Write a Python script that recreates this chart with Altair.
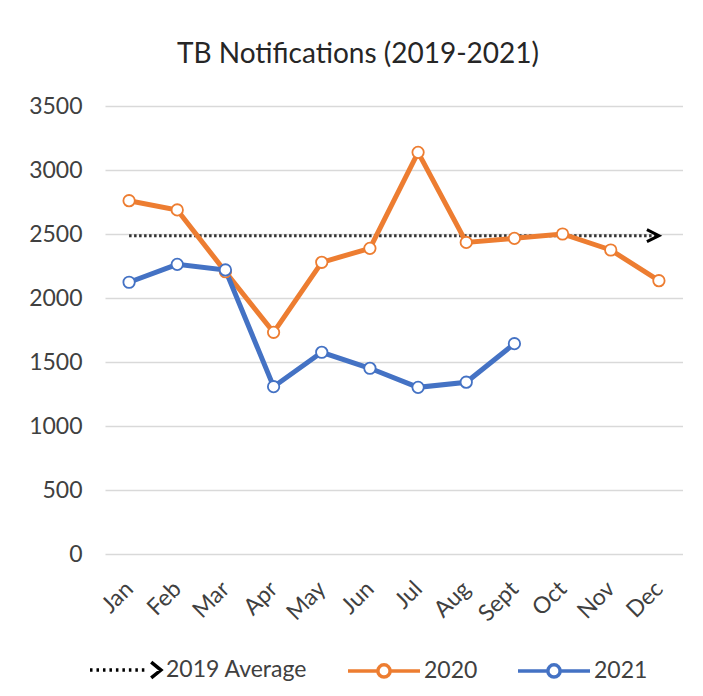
import altair as alt
import pandas as pd

months = ["Jan", "Feb", "Mar", "Apr", "May", "Jun", "Jul", "Aug", "Sept", "Oct", "Nov", "Dec"]
values_2020 = [2760, 2688, 2205, 1732, 2279, 2388, 3138, 2434, 2466, 2500, 2375, 2135]
values_2021 = [2123, 2263, 2219, 1307, 1576, 1451, 1302, 1342, 1643]
average_2019 = 2487
series_names = ["2019 Average", "2020", "2021"]
series_colors = ["#000000", "#ED7D31", "#4472C4"]
y_ticks = [0, 500, 1000, 1500, 2000, 2500, 3000, 3500]

rows = []
for m, v in zip(months, values_2020):
    rows.append({"month": m, "value": v, "series": "2020"})
for m, v in zip(months, values_2021):
    rows.append({"month": m, "value": v, "series": "2021"})
df = pd.DataFrame(rows)

avg_df = pd.DataFrame({"start": [months[0]], "end": [months[-1]], "value": [average_2019]})
legend_df = pd.DataFrame({"entry": series_names})

FONT = "Lato"
TXT = "#404040"

# legend symbol paths (styles)
dots = "".join(f"M{-1 + i * 0.18:.2f},0H{-1 + i * 0.18 + 0.07:.2f}" for i in range(9))
avg_symbol = dots + "M0.7,-0.22L0.97,0L0.7,0.22"
r = 0.17
line_circle = f"M-1,0H{-r}M{r},0H1M{-r},0A{r},{r},0,1,1,{r},0A{r},{r},0,1,1,{-r},0"
arrow_head = "M-1,-0.5L0,0L-1,0.5"

x_scale = alt.Scale(type="point", padding=0.5, domain=months)
x_enc = alt.X("month:N", sort=months, title=None, scale=x_scale,
              axis=alt.Axis(labelAngle=-45, labelFont=FONT, labelFontSize=23, labelColor=TXT,
                            domain=False, ticks=False, tickSize=0, labelPadding=31, grid=False))
y_scale = alt.Scale(domain=[0, 3500], nice=False)
y_enc = alt.Y("value:Q", title=None, scale=y_scale,
              axis=alt.Axis(values=y_ticks, format="d", labelFont=FONT, labelFontSize=23,
                            labelColor=TXT, domain=False, ticks=False, tickSize=0, labelPadding=23,
                            gridColor="#d9d9d9", gridWidth=1.3))
color_scale = alt.Scale(domain=series_names, range=series_colors)

avg_rule = alt.Chart(avg_df).mark_rule(strokeDash=[2.5, 2.5], strokeWidth=3, color="#333333").encode(
    x=alt.X("start:N", sort=months, scale=x_scale),
    x2="end:N",
    y=alt.Y("value:Q", scale=y_scale),
)

arrow = alt.Chart(avg_df).mark_point(shape=arrow_head, size=576, strokeWidth=3, color="#000000",
                                     filled=False, opacity=1).encode(
    x=alt.X("end:N", sort=months, scale=x_scale),
    y=alt.Y("value:Q", scale=y_scale),
)

lines = alt.Chart(df).mark_line(strokeWidth=5).encode(
    x=x_enc, y=y_enc,
    color=alt.Color("series:N", scale=color_scale, legend=None),
)

points = alt.Chart(df).mark_point(shape="circle", size=130, strokeWidth=1.8, filled=False,
                                  fill="white", opacity=1).encode(
    x=alt.X("month:N", sort=months), y="value:Q",
    color=alt.Color("series:N", scale=color_scale, legend=None),
)

legend_props = dict(title=None, orient="none", direction="horizontal",
                    legendX=-17, legendY=526,
                    labelFont=FONT, labelFontSize=23, labelColor=TXT,
                    symbolSize=5184, symbolStrokeWidth=3.5,
                    labelOffset=2, columnPadding=33)

legend_layer = alt.Chart(legend_df).transform_filter("false").mark_point(
    filled=False, fill="white", opacity=1).encode(
    color=alt.Color("entry:N", scale=alt.Scale(domain=series_names, range=series_colors),
                    legend=alt.Legend(**legend_props)),
    shape=alt.Shape("entry:N", scale=alt.Scale(domain=series_names,
                                                range=[avg_symbol, line_circle, line_circle]),
                    legend=alt.Legend(**legend_props)),
)

chart = alt.layer(avg_rule, lines, points, arrow, legend_layer).resolve_scale(
    color="independent", shape="independent"
).resolve_legend(color="independent", shape="independent").properties(
    width=578, height=448,
    title=alt.TitleParams("TB Notifications (2019-2021)", font=FONT, fontSize=28, fontWeight="normal",
                          color="#262626", anchor="middle", frame="group", dx=-36,
                          baseline="alphabetic", offset=4),
    autosize=alt.AutoSizeParams(type="none"),
    padding={"left": 97, "top": 98, "right": 0, "bottom": 130},
    background="white",
).configure_view(stroke=None)

chart.save("out.html", embed_options={"renderer": "svg", "actions": False})
